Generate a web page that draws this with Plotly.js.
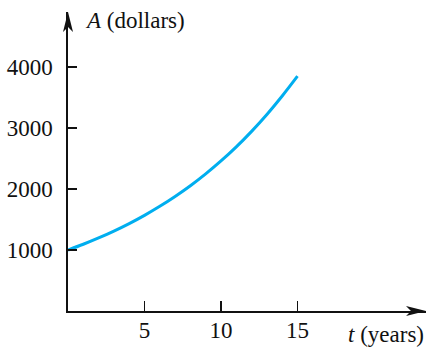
<!DOCTYPE html>
<html>
<head>
<meta charset="utf-8">
<script src="https://cdn.plot.ly/plotly-3.0.1.min.js"></script>
<style>html,body{margin:0;padding:0;background:#fff;}#chart{width:429px;height:347px;}</style>
</head>
<body>
<div id="chart"></div>
<script>
// Values
const years = [0, 1, 2, 3, 4, 5, 6, 7, 8, 9, 10, 11, 12, 13, 14, 15];
const amount = [1000, 1094, 1197, 1310, 1433, 1568, 1716, 1878, 2054, 2248, 2460, 2691, 2945, 3222, 3525, 3850];
const xTicks = [5, 10, 15];
const yTicks = [1000, 2000, 3000, 4000];
const xMax = 23.4;
const yMax = 4902;

const serif = "'Liberation Serif', 'DejaVu Serif', serif";

const trace = {
  x: years, y: amount, type: 'scatter', mode: 'lines',
  line: {color: '#00aeef', width: 3, shape: 'spline', smoothing: 1},
  hoverinfo: 'skip', cliponaxis: false
};

const layout = {
  width: 429, height: 347,
  margin: {l: 68, r: 3, t: 12, b: 36, pad: 0},
  paper_bgcolor: '#fff', plot_bgcolor: '#fff',
  showlegend: false,
  font: {family: serif, size: 23, color: '#111'},
  xaxis: {
    range: [0, xMax], showgrid: false, zeroline: false,
    showline: true, linecolor: '#111', linewidth: 1.6,
    tickmode: 'array', tickvals: xTicks, ticktext: xTicks.map(String),
    ticks: 'inside', ticklen: 10, tickwidth: 1.3, tickcolor: '#111',
    ticklabelstandoff: -2,
    tickfont: {family: serif, size: 23, color: '#111'}, fixedrange: true
  },
  yaxis: {
    range: [0, yMax], showgrid: false, zeroline: false,
    showline: true, linecolor: '#111', linewidth: 1.6,
    tickmode: 'array', tickvals: yTicks, ticktext: yTicks.map(String),
    ticks: 'inside', ticklen: 9, tickwidth: 1.3, tickcolor: '#111',
    ticklabelstandoff: 9,
    tickfont: {family: serif, size: 23, color: '#111'}, fixedrange: true
  },
  shapes: [
    {type: 'path', xref: 'paper', yref: 'paper', xsizemode: 'pixel', ysizemode: 'pixel',
     xanchor: 0, yanchor: 1, path: 'M0,0 L-5,-20 L0,-15 L5,-20 Z',
     fillcolor: '#111', line: {width: 0}},
    {type: 'path', xref: 'paper', yref: 'paper', xsizemode: 'pixel', ysizemode: 'pixel',
     xanchor: 1, yanchor: 0, path: 'M0,0 L-20,5 L-15,0 L-20,-5 Z',
     fillcolor: '#111', line: {width: 0}}
  ],
  annotations: [
    {xref: 'paper', yref: 'paper', x: 0.042, y: 0.973, xanchor: 'left', yanchor: 'middle',
     text: '<i>A</i> (dollars)', showarrow: false, font: {family: serif, size: 23, color: '#111'}},
    {xref: 'paper', yref: 'paper', x: 1.0, y: -0.077, xanchor: 'right', yanchor: 'middle',
     text: '<i>t</i> (years)', showarrow: false, font: {family: serif, size: 23, color: '#111'}}
  ]
};

Plotly.newPlot('chart', [trace], layout, {displayModeBar: false, staticPlot: true});
</script>
</body>
</html>
